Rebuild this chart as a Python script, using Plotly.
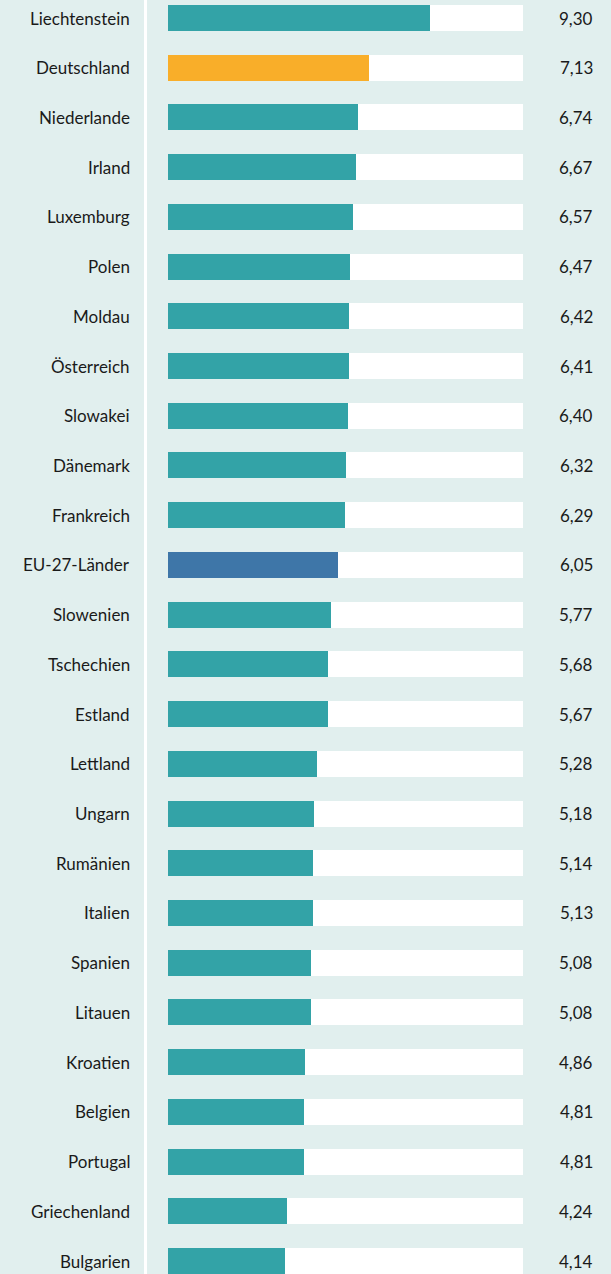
import plotly.graph_objects as go

countries = ["Liechtenstein", "Deutschland", "Niederlande", "Irland", "Luxemburg", "Polen",
             "Moldau", "Österreich", "Slowakei", "Dänemark", "Frankreich", "EU-27-Länder",
             "Slowenien", "Tschechien", "Estland", "Lettland", "Ungarn", "Rumänien",
             "Italien", "Spanien", "Litauen", "Kroatien", "Belgien", "Portugal",
             "Griechenland", "Bulgarien"]
values = [9.30, 7.13, 6.74, 6.67, 6.57, 6.47, 6.42, 6.41, 6.40, 6.32, 6.29, 6.05,
          5.77, 5.68, 5.67, 5.28, 5.18, 5.14, 5.13, 5.08, 5.08, 4.86, 4.81, 4.81,
          4.24, 4.14]
track_max = 12.6

W, H = 611, 1274
TEAL = "#33a3a7"
ORANGE = "#f9ae29"
BLUE = "#3e76a8"
BG = "#e1efee"

colors = [ORANGE if c == "Deutschland" else BLUE if c == "EU-27-Länder" else TEAL for c in countries]
ypos = list(range(len(countries)))

px_per_unit = (430 - 168) / 9.30
x0 = -168 / px_per_unit
x1 = (W - 168) / px_per_unit
step = (1261 - 18) / 25
y_top = -18 / step
y_bot = (H - 18) / step
bw = 26 / step

fig = go.Figure()
fig.add_trace(go.Bar(x=[track_max] * len(countries), y=ypos, orientation="h",
                     marker=dict(color="white", line=dict(width=0)), width=bw,
                     hoverinfo="skip", showlegend=False))
fig.add_trace(go.Bar(x=values, y=ypos, orientation="h",
                     marker=dict(color=colors, line=dict(width=0)), width=bw,
                     hovertext=countries, showlegend=False))

font = dict(family="Lato, 'Noto Sans', sans-serif", size=17, color="#1a1a1a")
for i, (c, v) in enumerate(zip(countries, values)):
    fig.add_annotation(x=130 / W, xref="paper", y=i, yref="y", text=c, showarrow=False,
                       xanchor="right", yanchor="middle", font=font, xshift=2)
    fig.add_annotation(x=593 / W, xref="paper", y=i, yref="y",
                       text=f"{v:.2f}".replace(".", ","), showarrow=False,
                       xanchor="right", yanchor="middle", font=font, xshift=2)

fig.add_shape(type="line", xref="paper", yref="paper", x0=145.5 / W, x1=145.5 / W, y0=0, y1=1,
              line=dict(color="white", width=3), layer="below")

fig.update_layout(
    width=W, height=H, margin=dict(l=0, r=0, t=0, b=0),
    paper_bgcolor=BG, plot_bgcolor=BG, barmode="overlay", bargap=0,
    xaxis=dict(range=[x0, x1], visible=False, showgrid=False, zeroline=False),
    yaxis=dict(range=[y_bot, y_top], visible=False, showgrid=False, zeroline=False),
)
fig.write_html("out.html", config={"displayModeBar": False},
               post_script="document.body.style.margin='0';document.body.style.overflow='hidden';document.body.style.background='" + BG + "';")
